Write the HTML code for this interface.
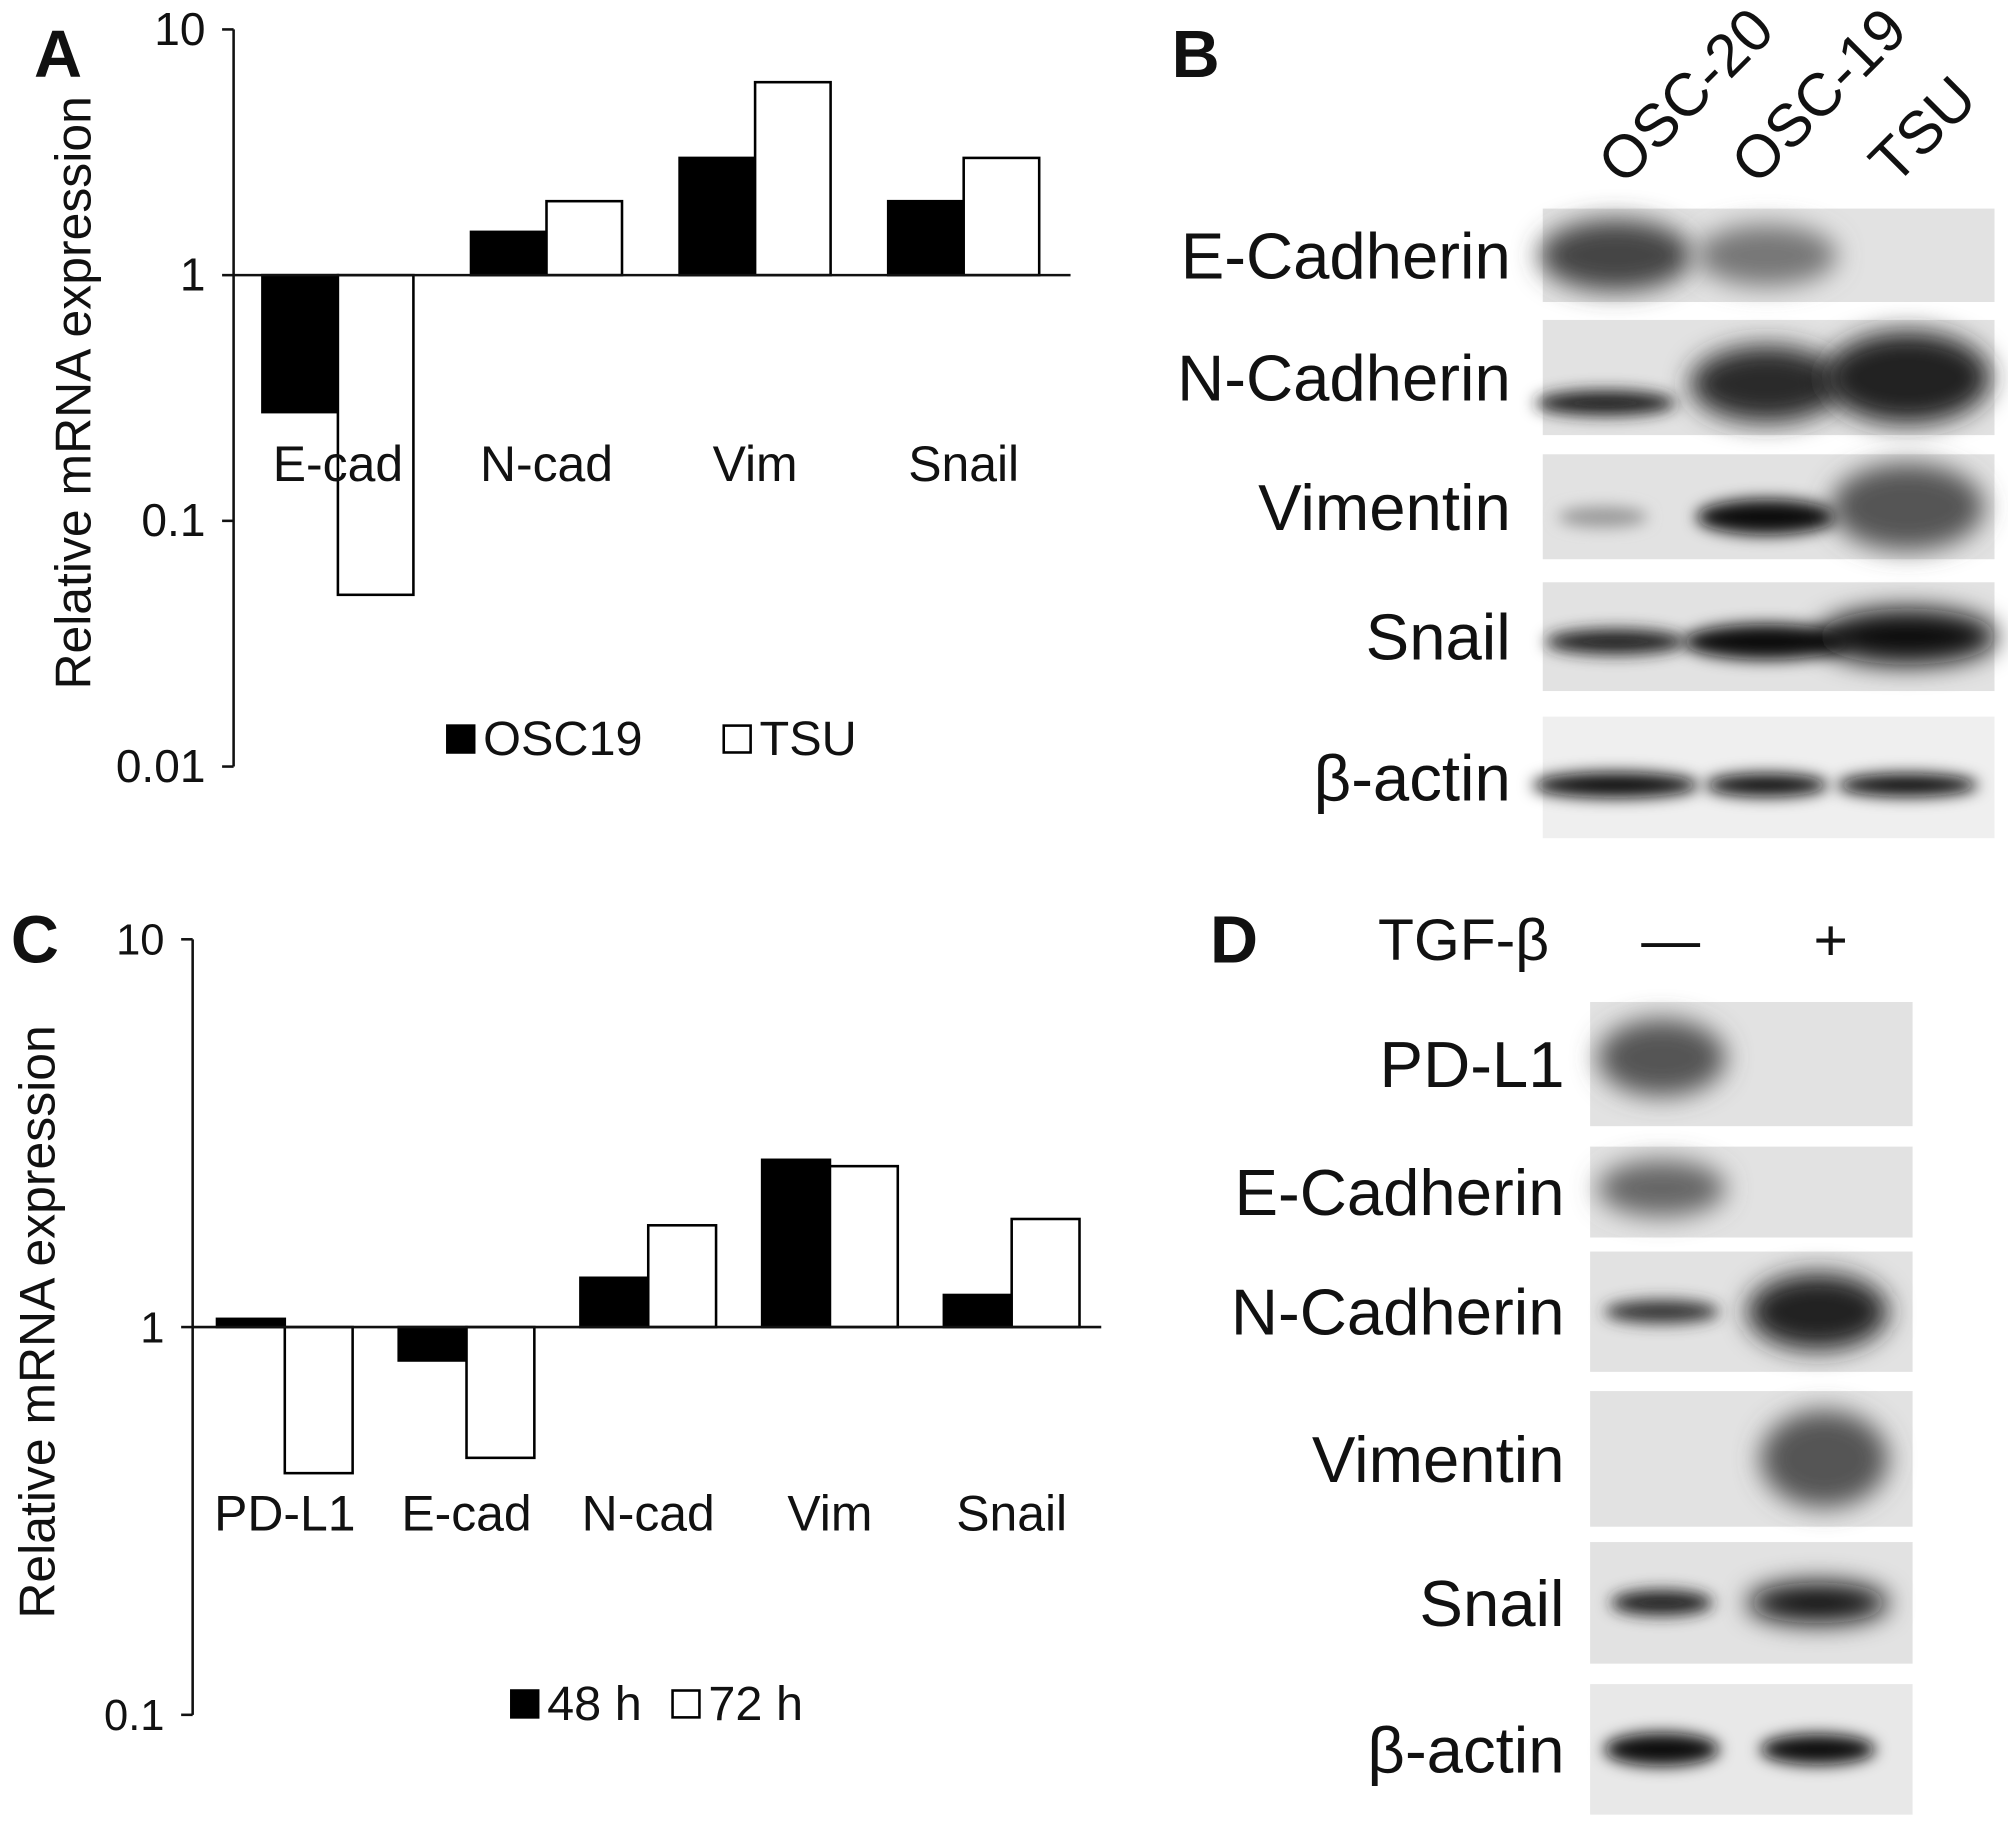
<!DOCTYPE html>
<html><head><meta charset="utf-8">
<style>
html,body{margin:0;padding:0;background:#fff;}
svg{display:block;}
text{font-family:"Liberation Sans",Arial,sans-serif;fill:#111;}
</style></head>
<body>
<svg id="fig" width="2008" height="1830" viewBox="0 0 1568 1430" xmlns="http://www.w3.org/2000/svg">
<defs>
<filter id="blur" x="-30%" y="-80%" width="160%" height="260%"><feGaussianBlur stdDeviation="6"/></filter>
<filter id="blur2" x="-30%" y="-80%" width="160%" height="260%"><feGaussianBlur stdDeviation="10"/></filter>
</defs>
<g id="A"></g>
<g id="C"></g>
<g id="B"></g>
<g id="D"></g>
</svg>
<script>
// Panel A data
const catsA = ["E-cad","N-cad","Vim","Snail"];
const osc19A = [0.277, 1.5, 3.0, 2.0];
const tsuA = [0.05, 2.0, 6.1, 3.0];
const ticksA = [10, 1, 0.1, 0.01];
const tickLabelsA = ["10","1","0.1","0.01"];
// Panel C data
const catsC = ["PD-L1","E-cad","N-cad","Vim","Snail"];
const h48C = [1.05, 0.82, 1.34, 2.7, 1.21];
const h72C = [0.42, 0.46, 1.83, 2.6, 1.9];
const ticksC = [10, 1, 0.1];
const tickLabelsC = ["10","1","0.1"];

const NS="http://www.w3.org/2000/svg";
function mk(parent,tag,attrs,txt){const e=document.createElementNS(NS,tag);for(const k in attrs)e.setAttribute(k,attrs[k]);if(txt!==undefined)e.textContent=txt;parent.appendChild(e);return e;}

function chart(g,cfg){
  const y=v=>cfg.y1-Math.log10(v)*cfg.dec;
  const x=i=>cfg.x0+cfg.step*(i+0.5);
  const ax=mk(g,'line',{x1:cfg.ax,y1:y(cfg.ticks[0]),x2:cfg.ax,y2:y(cfg.ticks[cfg.ticks.length-1]),stroke:'#111','stroke-width':2});
  
  
  cfg.ticks.forEach((t,i)=>{
    const tk=mk(g,'line',{x1:cfg.ax-9,y1:y(t),x2:cfg.ax,y2:y(t),stroke:'#111','stroke-width':2});
    
    
    const tl=mk(g,'text',{x:cfg.ax-22,y:y(t)+12,'text-anchor':'end','font-size':cfg.tfs},cfg.tickLabels[i]);
    
    
  });
  cfg.cats.forEach((c,i)=>{
    [cfg.s1,cfg.s2].forEach((s,k)=>{
      const v=s[i];const yy=y(v),y0=y(1);
      const r=mk(g,'rect',{x:x(i)-cfg.bw+k*cfg.bw,y:Math.min(yy,y0),width:cfg.bw,height:Math.abs(yy-y0),fill:k?'#fff':'#000',stroke:'#000','stroke-width':2});
      
      
    });
    const t=mk(g,'text',{x:x(i),y:cfg.ly,'text-anchor':'middle','font-size':39},c);
    
    
  });
  const xa=mk(g,'line',{x1:cfg.ax,y1:y(1),x2:cfg.xend,y2:y(1),stroke:'#111','stroke-width':2});
  
  
  const tt=mk(g,'text',{x:0,y:0,'text-anchor':'middle','font-size':39,transform:`translate(${cfg.tx},${cfg.ty}) rotate(-90)`},'Relative mRNA expression');
  
  
  cfg.leg.forEach((l,k)=>{
    const r=mk(g,'rect',{x:l[0],y:cfg.legy-21,width:21,height:21,fill:k?'#fff':'#000',stroke:'#000','stroke-width':2});
    
    
    const t=mk(g,'text',{x:l[0]+28,y:cfg.legy+2,'font-size':38},l[1]);
    
    
  });
  const L=mk(g,'text',{x:cfg.lx,y:cfg.lyy,'font-size':52,'font-weight':'bold'},cfg.letter);
  
  
}
chart(document.getElementById('A'),{y1:215,dec:192,x0:182,step:163,ax:182,xend:836,bw:59,cats:catsA,s1:osc19A,s2:tsuA,sn:['osc19','tsu'],ticks:ticksA,tickLabels:tickLabelsA,tfs:36,ly:376,tx:70,ty:307,legy:588,leg:[[349,'OSC19'],[565,'TSU']],letter:'A',lx:26,lyy:60});
chart(document.getElementById('C'),{y1:1037,dec:303,x0:151,step:142,ax:150,xend:860,bw:53,cats:catsC,s1:h48C,s2:h72C,sn:['48h','72h'],ticks:ticksC,tickLabels:tickLabelsC,tfs:34,ly:1196,tx:42,ty:1033,legy:1342,leg:[[399,'48 h'],[525,'72 h']],letter:'C',lx:8,lyy:752});

// Blots
function blot(g,cfg){
  cfg.rows.forEach(r=>{
    const t=mk(g,'text',{x:cfg.lblx,y:(r.y0+r.y1)/2+18,'text-anchor':'end','font-size':51},r.name);
    
    
    const bg=mk(g,'rect',{x:cfg.x0,y:r.y0,width:cfg.x1-cfg.x0,height:r.y1-r.y0,fill:r.bg||'#e2e2e2'});
    
    
    r.bands.forEach((b,i)=>{
      if(!b)return;
      const e=mk(g,'ellipse',{cx:cfg.lanes[i]+(b[3]||0),cy:(r.y0+r.y1)/2+(b[2]||0),rx:b[0],ry:b[1],fill:b[4]||'#111',filter:b[1]>15?'url(#blur2)':'url(#blur)'});
      
      
    });
  });
}
const gB=document.getElementById('B');
blot(gB,{x0:1205,x1:1558,lblx:1180,lanes:[1262,1380,1490],rows:[
 {name:'E-Cadherin',y0:163,y1:236,bands:[[60,28,0,0,'#444'],[55,24,0,0,'#777'],null]},
 {name:'N-Cadherin',y0:250,y1:340,bands:[[55,10,20,-8,'#222'],[60,30,5,0,'#2a2a2a'],[65,36,0,0,'#222']]},
 {name:'Vimentin',y0:355,y1:437,bands:[[35,8,8,-10,'#999'],[55,14,8,0,'#111'],[60,34,0,0,'#555']]},
 {name:'Snail',y0:455,y1:540,bands:[[55,10,4,0,'#222'],[65,14,4,0,'#111'],[70,22,0,0,'#0a0a0a']]},
 {name:'β-actin',y0:560,y1:655,bg:'#efefef',bands:[[65,10,6,0,'#111'],[48,9,6,0,'#111'],[55,9,6,0,'#111']]}
]});
[['OSC-20',1268],['OSC-19',1372],['TSU',1480]].forEach(c=>{
  const t=mk(gB,'text',{x:0,y:0,'font-size':47,transform:`translate(${c[1]},146) rotate(-45)`},c[0]);
  
  
});
let tb=mk(gB,'text',{x:915,y:60,'font-size':52,'font-weight':'bold'},'B');



const gD=document.getElementById('D');
blot(gD,{x0:1242,x1:1494,lblx:1222,lanes:[1298,1420],rows:[
 {name:'PD-L1',y0:783,y1:880,bands:[[50,30,-5,0,'#555'],null]},
 {name:'E-Cadherin',y0:896,y1:967,bands:[[50,22,-3,0,'#666'],null]},
 {name:'N-Cadherin',y0:978,y1:1072,bands:[[45,9,0,0,'#333'],[55,30,0,0,'#222']]},
 {name:'Vimentin',y0:1087,y1:1193,bands:[null,[50,38,0,5,'#555']]},
 {name:'Snail',y0:1205,y1:1300,bands:[[40,10,0,0,'#222'],[55,16,0,0,'#0a0a0a']]},
 {name:'β-actin',y0:1316,y1:1418,bg:'#e8e8e8',bands:[[45,13,0,0,'#111'],[45,12,0,0,'#111']]}
]});
[['TGF-β',1210,'end'],['—',1305,'middle'],['+',1430,'middle']].forEach(c=>{
  const t=mk(gD,'text',{x:c[1],y:750,'text-anchor':c[2],'font-size':46},c[0]);
  
  
});
let td=mk(gD,'text',{x:945,y:752,'font-size':52,'font-weight':'bold'},'D');


</script>
</body></html>
